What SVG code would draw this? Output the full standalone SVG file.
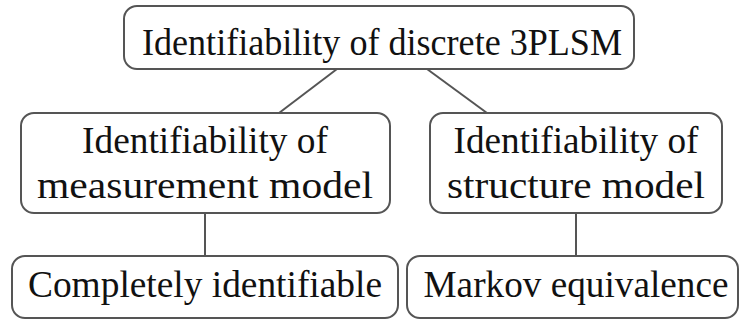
<svg xmlns="http://www.w3.org/2000/svg" width="740" height="320" viewBox="0 0 740 320">
<style>
.box{fill:#fff;stroke:#555;stroke-width:2}
.lbl{font-family:'Liberation Serif',Tinos,'Noto Serif','DejaVu Serif',FreeSerif,Times,'Times New Roman',serif;font-size:37px;fill:#111;text-anchor:middle}
.edge{stroke:#555;stroke-width:2;fill:none}
</style>
<rect width="740" height="320" fill="#fff"/>
<g id="connectors">
<line class="edge" x1="337" y1="69" x2="279" y2="113"/>
<line class="edge" x1="427" y1="69" x2="487" y2="113"/>
<line class="edge" x1="205" y1="213" x2="205" y2="256"/>
<line class="edge" x1="576" y1="213" x2="576" y2="256"/>
</g>
<g id="root">
<rect class="box" x="124" y="6" width="510" height="63" rx="13"/>
<text class="lbl" x="382" y="55" textLength="480" lengthAdjust="spacingAndGlyphs">Identifiability of discrete 3PLSM</text>
</g>
<g id="measurement">
<rect class="box" x="21" y="113" width="369" height="100" rx="13"/>
<text class="lbl" x="205" y="153" textLength="246" lengthAdjust="spacingAndGlyphs">Identifiability of</text>
<text class="lbl" x="205" y="198" textLength="336" lengthAdjust="spacingAndGlyphs">measurement model</text>
</g>
<g id="structure">
<rect class="box" x="430" y="113" width="292" height="100" rx="13"/>
<text class="lbl" x="576" y="153" textLength="245" lengthAdjust="spacingAndGlyphs">Identifiability of</text>
<text class="lbl" x="576" y="198" textLength="258" lengthAdjust="spacingAndGlyphs">structure model</text>
</g>
<g id="completely">
<rect class="box" x="12" y="256" width="386" height="62" rx="13"/>
<text class="lbl" x="205" y="297" textLength="354" lengthAdjust="spacingAndGlyphs">Completely identifiable</text>
</g>
<g id="markov">
<rect class="box" x="407" y="256" width="331" height="62" rx="13"/>
<text class="lbl" x="576" y="297" textLength="305" lengthAdjust="spacingAndGlyphs">Markov equivalence</text>
</g>
</svg>
